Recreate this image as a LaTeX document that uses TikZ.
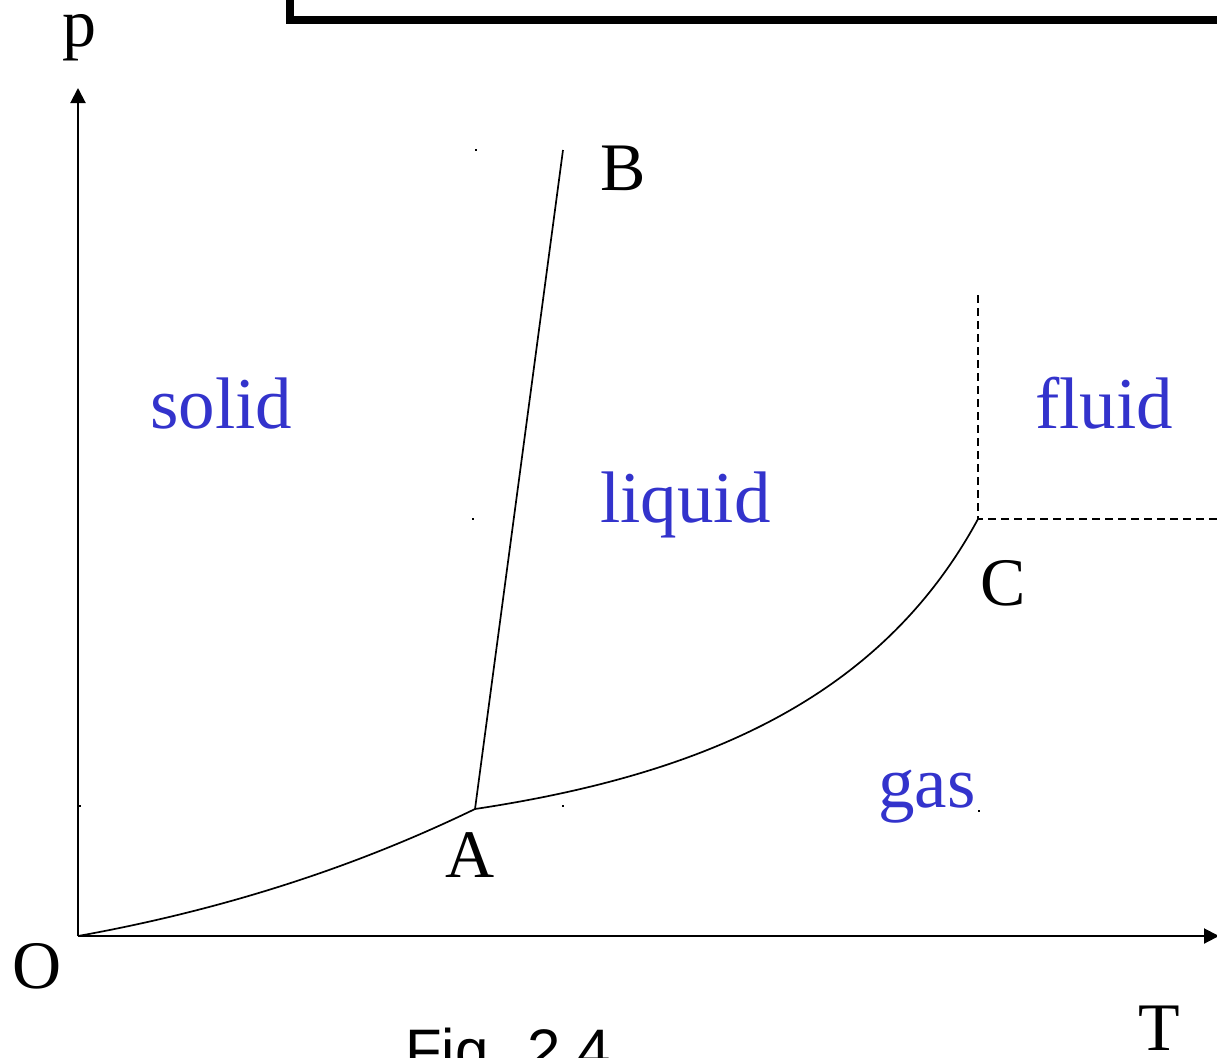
\documentclass[tikz,border=0pt]{standalone}
\usepackage{fontspec}
\usetikzlibrary{arrows.meta}
\setmainfont{Liberation Serif}
\newfontfamily\figfont{Liberation Sans}
\definecolor{regionblue}{RGB}{51,51,204}
\begin{document}
\begin{tikzpicture}[x=1pt,y=-1pt,
  lbl/.style={inner sep=0pt,anchor=base west,font=\fontsize{68}{76}\selectfont},
  region/.style={inner sep=0pt,anchor=base west,text=regionblue,font=\fontsize{73}{80}\selectfont},
  phaseline/.style={line width=1.7pt},
  axisline/.style={line width=2pt,-{Triangle[length=15pt,width=15pt]}},
  boundary/.style={line width=1.5pt,dash pattern=on 8pt off 5pt},
  speck/.style={fill=black,inner sep=0pt,minimum size=2.5pt}]
\useasboundingbox (0,0) rectangle (1217,1057);
\begin{scope}
\clip (0,0) rectangle (1217,1057);
\draw[line width=8pt] (289.5,-50) -- (289.5,20) -- (1300,20);
\node[inner sep=0pt,anchor=base west,font=\figfont\fontsize{60}{66}\selectfont] (fig) at (405,1071) {Fig. 2.4};
\end{scope}
% key points
\coordinate (O) at (78,936);
\coordinate (A) at (475,809);
\coordinate (B) at (563,150);
\coordinate (C) at (978,519);
\coordinate (Ctop) at (978,295);
\coordinate (Cright) at (1217,519);
\coordinate (ptop) at (78,88);
\coordinate (Tend) at (1219,936);
% axes
\draw[axisline] (O) -- (ptop);
\draw[axisline] (O) -- (Tend);
% phase lines
\draw[phaseline] (O) .. controls (250,905) and (380,855) .. (A);
\draw[phaseline] (A) -- (B);
\draw[phaseline] (A) .. controls (700,775) and (880,700) .. (C);
\draw[boundary] (Ctop) -- (C) -- (Cright);
% specks
\node[speck] (s1) at (476,150) {};
\node[speck] (s2) at (473,519) {};
\node[speck] (s3) at (80,806) {};
\node[speck] (s4) at (563,806) {};
\node[speck] (s5) at (979,811) {};
% labels
\node[lbl] (lp) at (62,47) {p};
\node[lbl] (lB) at (600,190) {B};
\node[lbl] (lC) at (980,605) {C};
\node[lbl] (lA) at (445,877) {A};
\node[lbl] (lO) at (12,988) {O};
\node[lbl] (lT) at (1138,1050) {T};
\node[region] (rs) at (150,428) {solid};
\node[region] (rl) at (600,522) {liquid};
\node[region] (rf) at (1035,428) {fluid};
\node[region] (rg) at (878,807) {gas};
\end{tikzpicture}
\end{document}
